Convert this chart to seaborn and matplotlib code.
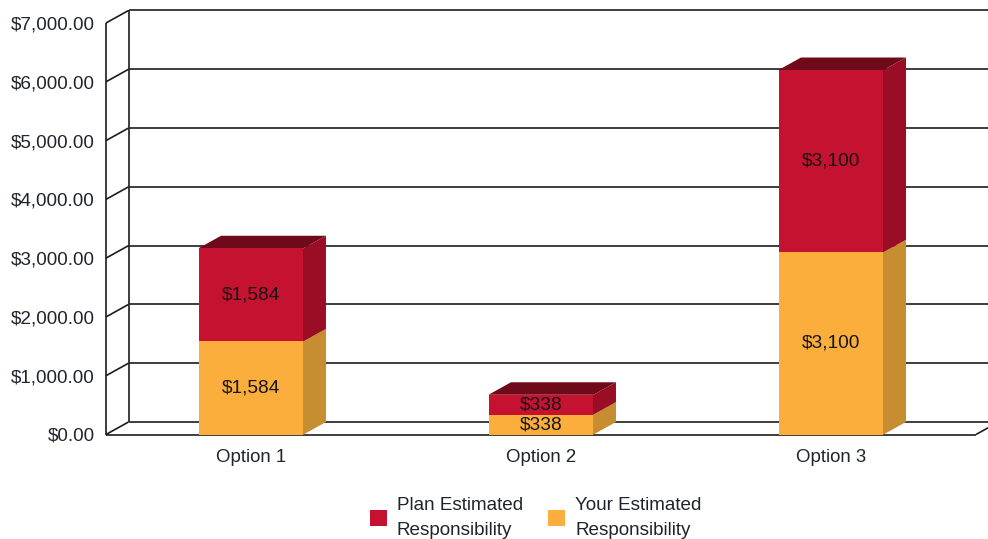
import matplotlib
matplotlib.use("Agg")
import matplotlib.pyplot as plt
import numpy as np
import pandas as pd
import seaborn as sns

# Chart values
options = ["Option 1", "Option 2", "Option 3"]
plan_share = [1584, 338, 3100]
your_share = [1584, 338, 3100]
y_ticks = [0, 1000, 2000, 3000, 4000, 5000, 6000, 7000]
plan_label = "Plan Estimated\nResponsibility"
your_label = "Your Estimated\nResponsibility"

sns.set_theme(style="white")
plt.rcParams["font.family"] = ["Liberation Sans", "DejaVu Sans"]

W, H = 988, 539
TEXT = "#20242c"
VALUE_TEXT = "#161616"
LINE = "#1c1c1c"
RED, RED_SIDE, RED_TOP = "#C41230", "#990E24", "#6F0A1B"
ORANGE, ORANGE_SIDE = "#FBAE3C", "#C68E31"
BAR_WIDTH = 0.362

fig = plt.figure(figsize=(W / 100, H / 100), dpi=100)
# Axes box is the front plane of the 3D frame
left, right, bottom, top = 106, 976, 434.5, 23
ax = fig.add_axes([left / W, 1 - bottom / H, (right - left) / W, (bottom - top) / H])

df = pd.DataFrame({"option": options, "plan": plan_share, "your": your_share})
sns.barplot(data=df, x="option", y="your", color=ORANGE, saturation=1, width=BAR_WIDTH,
            ax=ax, zorder=4, label=your_label, linewidth=0)
sns.barplot(data=df, x="option", y="plan", color=RED, saturation=1, width=BAR_WIDTH,
            bottom=df["your"].to_numpy(), ax=ax, zorder=4, label=plan_label, linewidth=0)
your_bars, plan_bars = ax.containers[0], ax.containers[1]

ax.set_xlim(-0.5, 2.5)
ax.set_ylim(0, 7000)
ax.set_xlabel("")
ax.set_ylabel("")
sns.despine(ax=ax, left=True, bottom=True)

# Depth offset of the back wall, in data units
dx = 22.5 * 3 / (right - left)
dy = 12.5 * 7000 / (bottom - top)

# Frame: wall gridlines with their slanted links to the front edge
line_kw = dict(color=LINE, lw=1.2, clip_on=False, zorder=1, solid_capstyle="butt")
for t in y_ticks:
    ax.plot([-0.5 + dx, 2.5 + dx], [t + dy, t + dy], **line_kw)
    ax.plot([-0.5, -0.5 + dx], [t, t + dy], **line_kw)
ax.plot([-0.5, -0.5], [0, 7000], **line_kw)
ax.plot([-0.5 + dx, -0.5 + dx], [dy, 7000 + dy], **line_kw)
ax.plot([-0.5, 2.5], [0, 0], **line_kw)
ax.plot([2.5, 2.5 + dx], [0, dy], **line_kw)

# Side and top faces that give each bar its depth; they start a little
# behind the front face so no seam opens between them
tuck = 0.006
for i, (y, p) in enumerate(zip(your_share, plan_share)):
    x0, x1 = i - BAR_WIDTH / 2, i + BAR_WIDTH / 2
    xb = x1 - tuck
    ax.fill([xb, x1, x1 + dx, x1 + dx, x1, xb], [0, 0, dy, y + dy, y, y],
            color=ORANGE_SIDE, lw=0, zorder=3, clip_on=False)
    ax.fill([xb, x1, x1 + dx, x1 + dx, x1, xb], [y, y, y + dy, y + p + dy, y + p, y + p],
            color=RED_SIDE, lw=0, zorder=3, clip_on=False)
    ax.fill([x0, x0 + dx, x1 + dx, x1], [y + p, y + p + dy, y + p + dy, y + p],
            color=RED_TOP, lw=0, zorder=3, clip_on=False)

# Value labels centred on the front faces
ax.bar_label(your_bars, labels=[f"${v:,}" for v in your_share], label_type="center",
             fontsize=13.8, color=VALUE_TEXT, zorder=6)
ax.bar_label(plan_bars, labels=[f"${v:,}" for v in plan_share], label_type="center",
             fontsize=13.8, color=VALUE_TEXT, zorder=6)

ax.set_yticks(y_ticks, [f"${t:,.2f}" for t in y_ticks])
ax.tick_params(axis="y", length=0, pad=8, labelsize=13.6, labelcolor=TEXT)
ax.tick_params(axis="x", length=0, pad=10.5, labelsize=13.4, labelcolor=TEXT)

legend = ax.legend([plan_bars, your_bars], [plan_label, your_label], ncol=2, frameon=False,
                   loc="center", bbox_to_anchor=(535.5 / W, 1 - 518 / H),
                   bbox_transform=fig.transFigure, fontsize=13.6,
                   handlelength=0.9, handleheight=1.0, handletextpad=0.55,
                   columnspacing=1.3, borderpad=0, labelcolor=TEXT)
for txt in legend.get_texts():
    txt.set_linespacing(1.62)

fig.savefig("out.png", dpi=100, facecolor="white")
